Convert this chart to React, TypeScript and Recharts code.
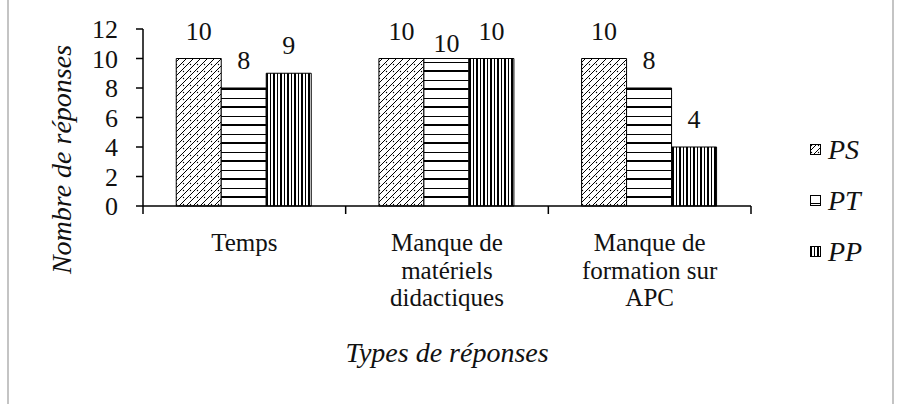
import { BarChart, Bar, XAxis, YAxis, Legend, LabelList, Label } from 'recharts'

const categories = ['Temps', 'Manque de\nmatériels\ndidactiques', 'Manque de\nformation sur\nAPC']
const seriesOrder = ['PS', 'PT', 'PP']
const psValues = [10, 10, 10]
const ptValues = [8, 10, 8]
const ppValues = [9, 10, 4]
const yTicks = [0, 2, 4, 6, 8, 10, 12]

const data = categories.map((name, i) => ({
    name,
    PS: psValues[i],
    PT: ptValues[i],
    PP: ppValues[i]
}))

const serif = '"Liberation Serif", "Times New Roman", serif'

function CategoryTick(props: any) {
    const { x, y, payload, index, visibleTicksCount } = props
    const half = payload.offset ?? 608 / categories.length / 2
    const lines = String(payload.value).split('\n')
    const isLast = index === visibleTicksCount - 1
    return (
        <g>
            <line x1={x - half} x2={x - half} y1={y} y2={y + 8} stroke="#000" strokeWidth={1.5} />
            {isLast && <line x1={x + half} x2={x + half} y1={y} y2={y + 8} stroke="#000" strokeWidth={1.5} />}
            <text x={x} y={y + 45} textAnchor="middle" fontFamily={serif} fontSize={25} fill="#111">
                {lines.map((l, i) => (
                    <tspan key={i} x={x} dy={i === 0 ? 0 : 27.5}>
                        {l}
                    </tspan>
                ))}
            </text>
        </g>
    )
}

// middle label drops a bit when its neighbours are the same height (Excel-style overlap shift)
function ValueLabel(props: any) {
    const { x, y, width, value, index, series } = props
    const crowded = series === 'PT' && psValues[index] === value && ppValues[index] === value
    return (
        <text
            x={x + width / 2}
            y={y - 19 + (crowded ? 12 : 0)}
            textAnchor="middle"
            fontFamily={serif}
            fontSize={26}
            fill="#111"
        >
            {value}
        </text>
    )
}

function LegendContent(props: any) {
    const { payload } = props
    const items = [...(payload || [])].sort(
        (a: any, b: any) => seriesOrder.indexOf(a.value) - seriesOrder.indexOf(b.value)
    )
    return (
        <div>
            {items.map((p: any) => (
                <div key={p.value} style={{ display: 'flex', alignItems: 'center', height: 51 }}>
                    <svg width={12} height={12} style={{ marginRight: 6 }}>
                        <rect x={0.5} y={0.5} width={10} height={10} fill={p.color} stroke="#000" strokeWidth={1} />
                    </svg>
                    <span style={{ fontFamily: serif, fontStyle: 'italic', fontSize: 28, color: '#111' }}>{p.value}</span>
                </div>
            ))}
        </div>
    )
}

export default function App() {
    return (
        <div style={{ position: 'absolute', left: 0, top: 0, width: 902, height: 404, background: '#fff' }}>
            <div style={{ position: 'absolute', left: 7, top: 0, width: 2, height: 404, background: '#c4c4c4' }} />
            <div style={{ position: 'absolute', left: 892, top: 0, width: 2, height: 404, background: '#c4c4c4' }} />
            <BarChart
                width={902}
                height={404}
                data={data}
                margin={{ top: 29, right: 61, left: 0, bottom: 48 }}
                barCategoryGap="16.4%"
                barGap={0}
            >
                <defs>
                    <pattern id="psFill" patternUnits="userSpaceOnUse" width={7} height={7}>
                        <rect width={7} height={7} fill="#fff" />
                        <path d="M-1,8 L8,-1 M-4,4 L4,-4 M3,11 L11,3" stroke="#000" strokeWidth={1} />
                        <circle cx={1.5} cy={1.5} r={0.7} fill="#000" />
                    </pattern>
                    <pattern id="ptFill" patternUnits="userSpaceOnUse" width={6} height={18}>
                        <rect width={6} height={18} fill="#fff" />
                        <rect y={8} width={6} height={1} fill="#000" />
                        <rect y={16} width={6} height={2} fill="#000" />
                    </pattern>
                    <pattern id="ppFill" patternUnits="userSpaceOnUse" width={7} height={6}>
                        <rect width={7} height={6} fill="#fff" />
                        <rect x={0} width={2} height={6} fill="#000" />
                        <rect x={4} width={1} height={6} fill="#000" />
                    </pattern>
                </defs>
                <XAxis
                    dataKey="name"
                    height={150}
                    tick={<CategoryTick />}
                    tickLine={false}
                    tickSize={0}
                    tickMargin={0}
                    interval={0}
                    axisLine={{ stroke: '#000', strokeWidth: 1.5 }}
                >
                    <Label
                        content={(p: any) => (
                            <text
                                x={p.viewBox.x + p.viewBox.width / 2}
                                y={p.viewBox.y + 156}
                                textAnchor="middle"
                                fontFamily={serif}
                                fontStyle="italic"
                                fontSize={28}
                                fill="#111"
                            >
                                Types de réponses
                            </text>
                        )}
                    />
                </XAxis>
                <YAxis
                    width={143}
                    domain={[0, 12]}
                    ticks={yTicks}
                    interval={0}
                    tickSize={7}
                    tickMargin={18}
                    tick={{ fontFamily: serif, fontSize: 26, fill: '#111' }}
                    tickLine={{ stroke: '#000', strokeWidth: 1.5 }}
                    axisLine={{ stroke: '#000', strokeWidth: 1.5 }}
                >
                    <Label
                        content={(p: any) => {
                            const cx = p.viewBox.x + 71
                            const cy = p.viewBox.y + p.viewBox.height / 2 + 42
                            return (
                                <text
                                    x={cx}
                                    y={cy}
                                    transform={`rotate(-90, ${cx}, ${cy})`}
                                    textAnchor="middle"
                                    fontFamily={serif}
                                    fontStyle="italic"
                                    fontSize={28}
                                    fill="#111"
                                >
                                    Nombre de réponses
                                </text>
                            )
                        }}
                    />
                </YAxis>
                <Legend
                    layout="vertical"
                    align="right"
                    verticalAlign="top"
                    content={<LegendContent />}
                    wrapperStyle={{ left: 810, top: 124, width: 90 }}
                />
                <Bar dataKey="PS" name="PS" fill="url(#psFill)" stroke="#000" strokeWidth={1} isAnimationActive={false}>
                    <LabelList dataKey="PS" content={<ValueLabel series="PS" />} />
                </Bar>
                <Bar dataKey="PT" name="PT" fill="url(#ptFill)" stroke="#000" strokeWidth={1} isAnimationActive={false}>
                    <LabelList dataKey="PT" content={<ValueLabel series="PT" />} />
                </Bar>
                <Bar dataKey="PP" name="PP" fill="url(#ppFill)" stroke="#000" strokeWidth={1} isAnimationActive={false}>
                    <LabelList dataKey="PP" content={<ValueLabel series="PP" />} />
                </Bar>
            </BarChart>
        </div>
    )
}
